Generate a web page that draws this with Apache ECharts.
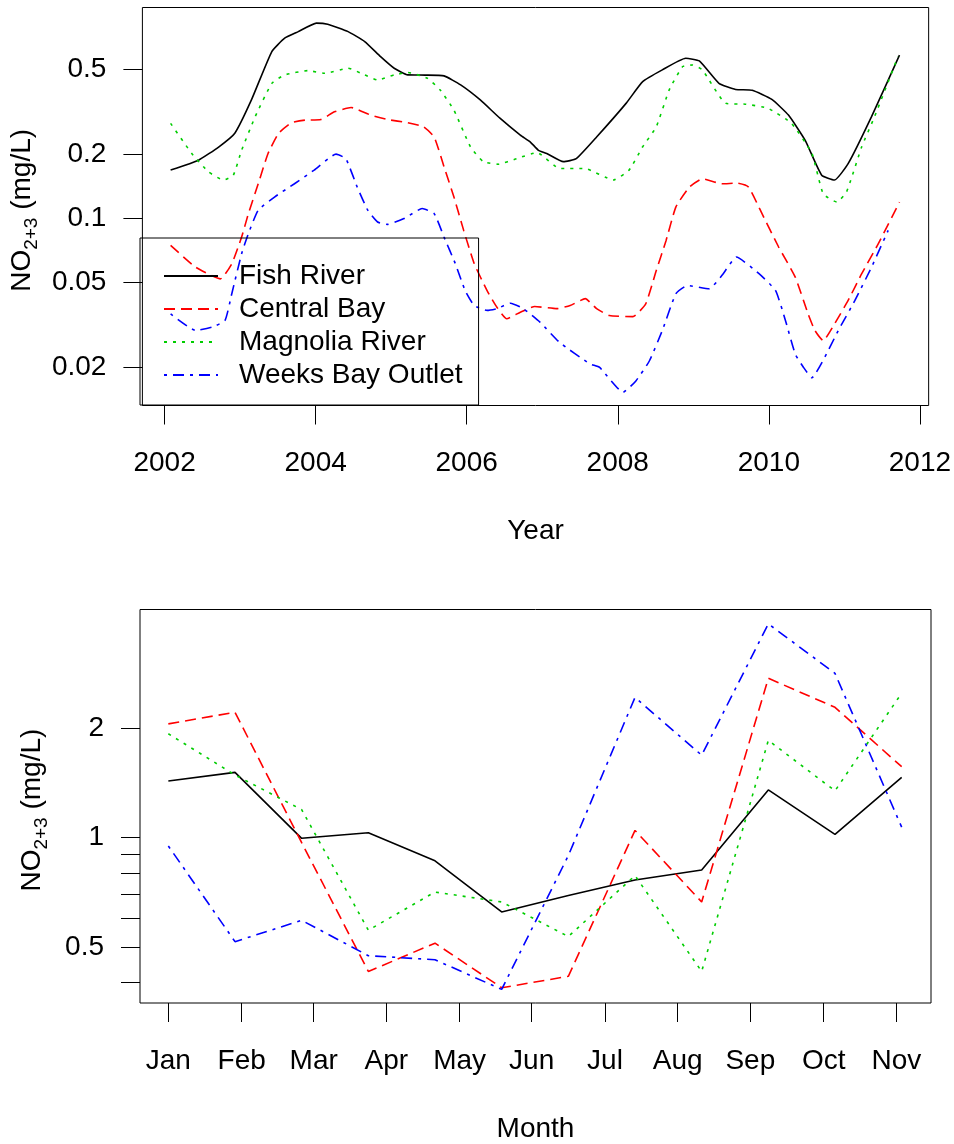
<!DOCTYPE html>
<html>
<head>
<meta charset="utf-8">
<title>NO2+3</title>
<script src="https://cdn.jsdelivr.net/npm/echarts@6.0.0/dist/echarts.min.js"></script>
<style>html,body{margin:0;padding:0;background:#fff;}</style>
</head>
<body>
<div id="main" style="width:954px;height:1144px;"></div>
<script type="text/javascript">
// top panel: smoothed annual series, [year, mg/L]
var fishRiverYear = [[2002.08,0.168],[2002.45,0.187],[2002.72,0.216],[2002.93,0.250],[2003.15,0.358],[2003.42,0.603],[2003.59,0.697],[2003.77,0.748],[2004.01,0.820],[2004.16,0.810],[2004.43,0.748],[2004.65,0.672],[2004.86,0.571],[2005.04,0.504],[2005.22,0.469],[2005.45,0.468],[2005.70,0.464],[2005.92,0.421],[2006.18,0.358],[2006.44,0.294],[2006.71,0.245],[2006.84,0.228],[2006.95,0.208],[2007.06,0.201],[2007.28,0.184],[2007.45,0.190],[2007.72,0.240],[2008.11,0.345],[2008.33,0.436],[2008.59,0.495],[2008.90,0.561],[2009.08,0.545],[2009.34,0.428],[2009.56,0.401],[2009.78,0.397],[2010.04,0.360],[2010.26,0.304],[2010.48,0.232],[2010.70,0.159],[2010.87,0.151],[2011.05,0.180],[2011.36,0.299],[2011.73,0.580]];
var centralBayYear = [[2002.08,0.0746],[2002.41,0.059],[2002.74,0.052],[2002.89,0.0612],[2003.02,0.0816],[2003.11,0.105],[2003.24,0.145],[2003.37,0.201],[2003.51,0.250],[2003.68,0.280],[2003.86,0.288],[2004.07,0.290],[2004.25,0.315],[2004.47,0.330],[2004.73,0.304],[2004.95,0.290],[2005.22,0.280],[2005.43,0.268],[2005.57,0.240],[2005.70,0.174],[2005.83,0.126],[2005.96,0.0877],[2006.10,0.0612],[2006.27,0.0458],[2006.40,0.0383],[2006.53,0.0338],[2006.71,0.0363],[2006.90,0.0386],[2007.19,0.0377],[2007.37,0.039],[2007.57,0.042],[2007.72,0.0377],[2007.89,0.035],[2008.20,0.0346],[2008.37,0.0397],[2008.51,0.0569],[2008.64,0.0787],[2008.77,0.113],[2008.95,0.140],[2009.12,0.153],[2009.38,0.145],[2009.58,0.146],[2009.73,0.140],[2009.91,0.105],[2010.13,0.0733],[2010.35,0.053],[2010.52,0.0356],[2010.61,0.0298],[2010.72,0.0267],[2010.87,0.032],[2011.05,0.0412],[2011.23,0.055],[2011.45,0.076],[2011.73,0.119]];
var magnoliaYear = [[2002.08,0.278],[2002.36,0.201],[2002.58,0.165],[2002.78,0.151],[2002.91,0.159],[2003.02,0.208],[2003.20,0.299],[2003.42,0.428],[2003.59,0.469],[2003.90,0.491],[2004.12,0.477],[2004.43,0.504],[2004.65,0.469],[2004.82,0.444],[2005.04,0.469],[2005.22,0.481],[2005.48,0.452],[2005.65,0.398],[2005.83,0.321],[2006.05,0.216],[2006.22,0.184],[2006.42,0.179],[2006.66,0.190],[2006.93,0.203],[2007.23,0.171],[2007.56,0.171],[2007.94,0.151],[2008.15,0.168],[2008.33,0.216],[2008.51,0.268],[2008.68,0.398],[2008.86,0.513],[2008.99,0.522],[2009.12,0.495],[2009.43,0.345],[2009.69,0.342],[2009.99,0.327],[2010.30,0.278],[2010.57,0.201],[2010.72,0.130],[2010.90,0.119],[2011.03,0.133],[2011.23,0.216],[2011.40,0.299],[2011.71,0.571]];
var weeksBayYear = [[2002.08,0.0356],[2002.41,0.0298],[2002.63,0.0309],[2002.80,0.0332],[2002.89,0.0443],[2003.02,0.0682],[2003.11,0.0847],[2003.24,0.109],[2003.46,0.126],[2003.72,0.145],[2003.98,0.168],[2004.27,0.1995],[2004.40,0.190],[2004.55,0.140],[2004.69,0.109],[2004.82,0.096],[2004.95,0.0936],[2005.17,0.0996],[2005.41,0.111],[2005.57,0.105],[2005.70,0.0816],[2005.85,0.0612],[2005.98,0.0458],[2006.10,0.039],[2006.27,0.037],[2006.40,0.0377],[2006.58,0.040],[2006.75,0.0377],[2006.97,0.0326],[2007.23,0.0262],[2007.63,0.0208],[2007.76,0.020],[2008.07,0.0153],[2008.24,0.0173],[2008.42,0.0215],[2008.59,0.0298],[2008.77,0.0443],[2008.92,0.0484],[2009.21,0.0467],[2009.38,0.054],[2009.57,0.0658],[2009.87,0.055],[2010.09,0.0458],[2010.22,0.0332],[2010.35,0.0231],[2010.46,0.020],[2010.57,0.0179],[2010.74,0.0223],[2010.92,0.0298],[2011.14,0.0412],[2011.36,0.059],[2011.58,0.0877]];

// bottom panel: monthly values, points 1..12
var monthIdx = [1,2,3,4,5,6,7,8,9,10,11,12];
var fishRiverMonth  = [1.432,1.512,0.996,1.032,0.864,0.625,0.694,0.765,0.815,1.353,1.021,1.465];
var centralBayMonth = [2.055,2.211,0.969,0.429,0.513,0.387,0.416,1.047,0.666,2.741,2.281,1.567];
var magnoliaMonth   = [1.930,1.487,1.194,0.557,0.709,0.666,0.535,0.787,0.429,1.851,1.345,2.495];
var weeksBayMonth   = [0.949,0.518,0.593,0.474,0.462,0.383,0.893,2.429,1.685,3.867,2.828,1.069];

// axis ticks / labels
var yearTicks = [2002,2004,2006,2008,2010,2012];
var topYTicks = [0.02,0.05,0.1,0.2,0.5];
var botYTicks = [0.4,0.5,0.6,0.7,0.8,0.9,1,2];
var botYLabels = [0.5,1,2];
var monthLabels = ['Jan','Feb','Mar','Apr','May','Jun','Jul','Aug','Sep','Oct','Nov'];
var monthTickPos = [1.0,2.1,3.18,4.27,5.37,6.45,7.55,8.64,9.73,10.83,11.92];

var names = ['Fish River','Central Bay','Magnolia River','Weeks Bay Outlet'];
var colors = ['#000000','#ff0000','#00cd00','#0000ff'];
var dashes = ['solid',[11,6],[3,6],[3,6,11,6]];

var FONT = 'Liberation Sans, Arial, sans-serif';
var lg = function (v) { return Math.log10(v); };
var logLabel = function (v) { return String(parseFloat(Math.pow(10, v).toPrecision(3))); };

var myChart = echarts.init(document.getElementById('main'));

var topSets = [fishRiverYear, centralBayYear, magnoliaYear, weeksBayYear];
var botSets = [fishRiverMonth, centralBayMonth, magnoliaMonth, weeksBayMonth];
var series = [];
names.forEach(function (n, i) {
  series.push({
    name: n, type: 'line', xAxisIndex: 0, yAxisIndex: 0,
    symbol: 'none', smooth: 0.15,
    lineStyle: { color: colors[i], width: 1.6, type: dashes[i] },
    itemStyle: { color: colors[i] },
    data: topSets[i].map(function (p) { return [p[0], lg(p[1])]; })
  });
});
names.forEach(function (n, i) {
  series.push({
    name: n, type: 'line', xAxisIndex: 1, yAxisIndex: 1,
    symbol: 'none',
    lineStyle: { color: colors[i], width: 1.6, type: dashes[i] },
    itemStyle: { color: colors[i] },
    data: botSets[i].map(function (v, k) { return [monthIdx[k], lg(v)]; })
  });
});

var tick = { show: true, inside: false, length: 19, lineStyle: { color: '#000', width: 1 } };
var lbl = { fontSize: 28, color: '#000', fontFamily: FONT };
var yName = {
  color: '#000', fontFamily: FONT, fontSize: 28,
  rich: {
    n: { fontSize: 28, lineHeight: 28, verticalAlign: 'top', color: '#000', fontFamily: FONT },
    s: { fontSize: 19, lineHeight: 20, verticalAlign: 'bottom', color: '#000', fontFamily: FONT },
    z: { fontSize: 28, lineHeight: 33, color: '#000', fontFamily: FONT }
  }
};
var yNameText = '{n|NO}{s|2+3}{n| (mg/L)}{z| }';

option = {
  animation: false,
  backgroundColor: '#fff',
  textStyle: { fontFamily: FONT },
  legend: {
    data: names,
    orient: 'vertical',
    left: 140, top: 238,
    padding: [24, 16, 16, 23],
    itemWidth: 54, itemHeight: 1, itemGap: 5,
    itemStyle: { opacity: 0 },
    selectedMode: false,
    borderColor: '#000', borderWidth: 1,
    textStyle: { fontSize: 28, lineHeight: 28, color: '#000', fontFamily: FONT, padding: [0, 0, 0, 16] }
  },
  grid: [
    { left: 140, top: 7.5, width: 791, height: 398, show: true, borderColor: '#000', borderWidth: 1 },
    { left: 140, top: 609.5, width: 791, height: 397.5, show: true, borderColor: '#000', borderWidth: 1 }
  ],
  xAxis: [
    {
      gridIndex: 0, type: 'value', min: 2001.7065, max: 2012.116,
      axisLine: { show: false, onZero: false }, splitLine: { show: false },
      axisTick: Object.assign({ customValues: yearTicks }, tick),
      axisLabel: Object.assign({ customValues: yearTicks, margin: 44, formatter: function (v) { return String(v); } }, lbl),
      name: 'Year', nameLocation: 'middle', nameGap: 112, nameTextStyle: lbl
    },
    {
      gridIndex: 1, type: 'value', min: 0.575, max: 12.44,
      axisLine: { show: false, onZero: false }, splitLine: { show: false },
      axisTick: Object.assign({ customValues: monthTickPos }, tick),
      axisLabel: Object.assign({
        customValues: monthTickPos, margin: 44,
        formatter: function (v) {
          var best = 0;
          monthTickPos.forEach(function (p, k) { if (Math.abs(p - v) < Math.abs(monthTickPos[best] - v)) best = k; });
          return monthLabels[best];
        }
      }, lbl),
      name: 'Month', nameLocation: 'middle', nameGap: 112, nameTextStyle: lbl
    }
  ],
  yAxis: [
    {
      gridIndex: 0, type: 'value', min: lg(0.01327), max: lg(0.970),
      axisLine: { show: false, onZero: false }, splitLine: { show: false },
      axisTick: Object.assign({ customValues: topYTicks.map(lg) }, tick),
      axisLabel: Object.assign({ customValues: topYTicks.map(lg), margin: 36, formatter: logLabel }, lbl),
      name: yNameText, nameLocation: 'middle', nameRotate: 90, nameGap: 89, nameTextStyle: yName
    },
    {
      gridIndex: 1, type: 'value', min: lg(0.3514), max: lg(4.236),
      axisLine: { show: false, onZero: false }, splitLine: { show: false },
      axisTick: Object.assign({ customValues: botYTicks.map(lg) }, tick),
      axisLabel: Object.assign({ customValues: botYLabels.map(lg), margin: 36, formatter: logLabel }, lbl),
      name: yNameText, nameLocation: 'middle', nameRotate: 90, nameGap: 89, nameTextStyle: yName
    }
  ],
  series: series
};
myChart.setOption(option);
</script>
</body>
</html>
